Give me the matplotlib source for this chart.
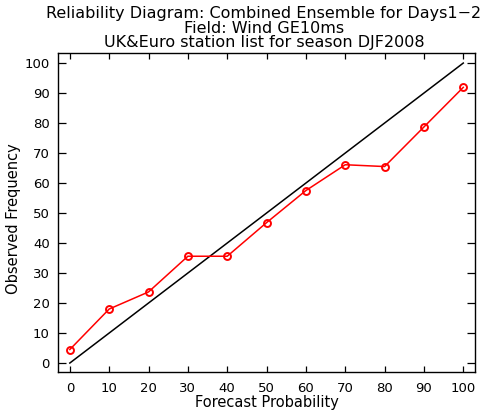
import matplotlib
matplotlib.use("Agg")
import matplotlib.pyplot as plt

forecast_prob = [0, 10, 20, 30, 40, 50, 60, 70, 80, 90, 100]
observed_freq = [4.5, 18.0, 23.7, 35.6, 35.6, 46.8, 57.5, 66.1, 65.5, 78.7, 91.9]
diag = [0, 100]
xticks = list(range(0, 101, 10))
yticks = list(range(0, 101, 10))
title_lines = ["Reliability Diagram: Combined Ensemble for Days1\u22122",
               "Field: Wind GE10ms",
               "UK&Euro station list for season DJF2008"]

fig = plt.figure(figsize=(4.98, 4.12), dpi=100)
ax = fig.add_axes([0.1165, 0.097, 0.8375, 0.774])

ax.plot(diag, diag, color="black", lw=1.1)
ax.plot(forecast_prob, observed_freq, color="red", lw=1.1, marker="o",
        markersize=5, fillstyle="none", markeredgewidth=1.4)

ax.set_xlim(-3, 103)
ax.set_ylim(-3, 103.3)
ax.set_xticks(xticks)
ax.set_yticks(yticks)
ax.tick_params(axis="x", direction="in", length=4.6, width=0.9, top=True,
               labelsize=9.5, pad=7)
ax.tick_params(axis="y", direction="in", length=6, width=0.9, right=True,
               labelsize=9.5, pad=6)
for s in ax.spines.values():
    s.set_linewidth(1.0)

ax.set_xlabel("Forecast Probability", fontsize=10.5, labelpad=0)
ax.set_ylabel("Observed Frequency", fontsize=10.5)
ax.yaxis.set_label_coords(-0.088, 0.48)

fig.text(0.53, 0.932, "\n".join(title_lines), ha="center", va="center",
         fontsize=11.5, linespacing=0.92)

fig.savefig("out.png", dpi=100)
